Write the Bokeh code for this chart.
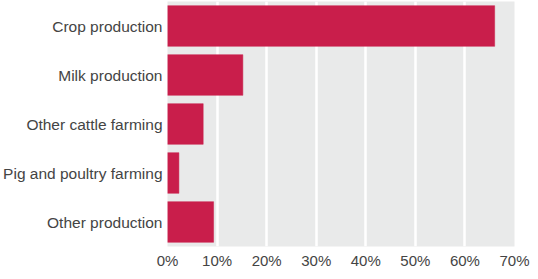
from bokeh.plotting import figure
from bokeh.models import ColumnDataSource, FixedTicker, PrintfTickFormatter, Range1d, FactorRange
from bokeh.embed import file_html
from bokeh.resources import INLINE

categories = ["Crop production", "Milk production", "Other cattle farming",
              "Pig and poultry farming", "Other production"]
shares = [66.0, 15.2, 7.2, 2.3, 9.3]
x_ticks = [0, 10, 20, 30, 40, 50, 60, 70]

source = ColumnDataSource(dict(cat=categories, val=shares))

p = figure(width=530, height=271, output_backend="svg", toolbar_location=None,
           y_range=FactorRange(factors=list(reversed(categories)), range_padding=0),
           x_range=Range1d(0, 70),
           min_border_left=165, min_border_right=16, min_border_top=1, min_border_bottom=22)

p.hbar(y="cat", right="val", left=0, height=0.83, source=source,
       fill_color="#C91E4B", line_color="#C91E4B", line_width=0.5)

p.background_fill_color = "#E9EAEA"
p.border_fill_color = "white"
p.outline_line_color = None

p.xgrid.grid_line_color = "white"
p.xgrid.grid_line_width = 2.5
p.ygrid.grid_line_color = None
p.xgrid.ticker = FixedTicker(ticks=x_ticks)

p.xaxis.ticker = FixedTicker(ticks=x_ticks)
p.xaxis.formatter = PrintfTickFormatter(format="%d%%")
for ax in (p.xaxis, p.yaxis):
    ax.axis_line_color = None
    ax.major_tick_line_color = None
    ax.minor_tick_line_color = None
    ax.major_tick_out = 0
    ax.major_tick_in = 0
    ax.minor_tick_out = 0
    ax.minor_tick_in = 0
    ax.major_label_text_font = "Liberation Sans"
    ax.major_label_text_color = "#444444"
p.xaxis.major_label_text_font_size = "15px"
p.yaxis.major_label_text_font_size = "15.5px"
p.xaxis.major_label_standoff = 5
p.yaxis.major_label_standoff = 5

open("out.html", "w").write(file_html(p, INLINE))
